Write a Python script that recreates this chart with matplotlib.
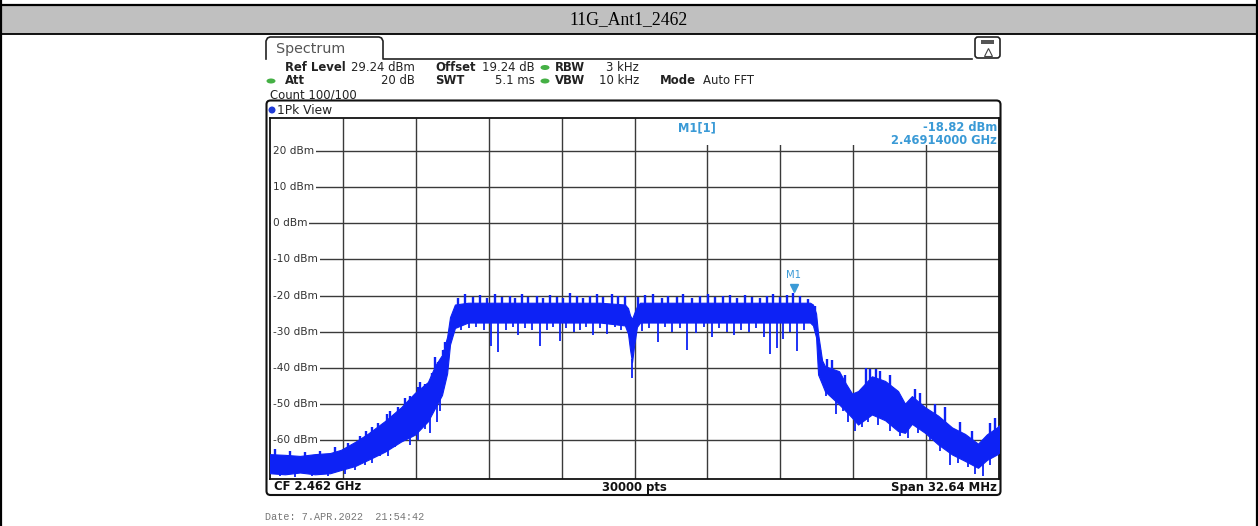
import numpy as np
import matplotlib.pyplot as plt
from matplotlib.patches import Rectangle, FancyBboxPatch, Ellipse

# spectrum settings
cf_ghz = 2.462
span_mhz = 32.64
ref_level = 29.24
marker_f = 7.14          # MHz from CF (2.46914 GHz)
marker_lvl = -18.82
y_levels = [20, 10, 0, -10, -20, -30, -40, -50, -60]

# trace core band (MHz from CF, dBm)
env_f = [-16.32, -15.65, -14.98, -14.31, -13.63, -13.14, -12.51, -11.93, -11.17,
         -10.45, -9.83, -9.25, -8.93, -8.62, -8.39, -8.26, -8.04, -7.45, -6.02,
         -3.78, -1.54, -0.43, -0.29, -0.20, -0.11, -0.02, 0.11, 0.25, 2.93, 5.62,
         7.86, 7.99, 8.13, 8.22, 8.40, 8.53, 9.16, 9.45, 9.74, 10.01, 10.63, 11.22,
         11.80, 12.11, 12.42, 13.01, 13.59, 14.22, 14.80, 15.38, 15.78, 16.23, 16.32]
env_hi = [-64.0, -64.2, -64.5, -64.0, -63.7, -62.8, -60.6, -58.3, -54.8,
          -51.0, -47.0, -44.0, -39.5, -36.5, -31.5, -26.0, -22.5, -22.0, -22.0,
          -22.0, -22.0, -22.5, -23.5, -25.5, -26.5, -25.0, -23.0, -22.0, -22.0, -22.0,
          -22.0, -22.5, -25.0, -30.6, -38.0, -39.6, -41.0, -44.3, -47.2, -46.5, -42.4, -43.7,
          -46.5, -50.0, -47.9, -51.0, -53.3, -56.6, -58.4, -61.1, -58.5, -56.6, -56.0]
env_lo = [-69.3, -69.6, -69.1, -69.6, -69.3, -68.4, -67.3, -65.6, -63.3,
          -60.5, -58.6, -54.9, -51.2, -47.6, -41.6, -33.6, -29.0, -27.5, -27.5,
          -27.5, -27.5, -28.3, -30.6, -35.0, -38.5, -34.0, -28.7, -27.5, -27.5, -27.5,
          -27.5, -28.3, -31.6, -41.9, -44.6, -46.6, -50.2, -52.0, -53.9, -55.8, -53.0, -54.6,
          -57.6, -58.1, -55.6, -58.1, -61.3, -64.1, -65.9, -67.8, -65.6, -64.1, -63.6]

# peaks sticking out above the core band
up_f = [-7.90, -7.59, -7.23, -6.92, -6.60, -6.25, -5.93, -5.57, -5.35, -5.04,
        -4.77, -4.37, -4.10, -3.78, -3.47, -3.20, -2.89, -2.57, -2.31, -1.99,
        -1.68, -1.41, -1.01, -0.74, -0.43,
        0.16, 0.47, 0.83, 1.23, 1.50, 1.90, 2.17, 2.57, 2.93, 3.29, 3.60, 3.96,
        4.28, 4.59, 4.95, 5.26, 5.62, 5.93, 6.20, 6.51, 6.83, 7.10, 7.41, 7.77,
        -16.10, -15.43, -14.75, -14.08, -13.41, -12.83, -12.29, -12.02, -11.75,
        -11.48, -11.08, -10.95, -10.59, -10.28, -10.05, -9.69, -9.60, -9.38, -9.07,
        -8.93, -8.80, -8.57, -8.48,
        8.08, 8.31, 8.62, 8.85, 9.43, 10.37, 10.55, 10.81, 10.99, 11.44, 12.56,
        12.78, 13.45, 13.90, 14.57, 15.11, 15.92, 16.14]
up_lvl = [-20.6, -19.6, -20.3, -19.9, -20.8, -19.6, -20.5, -20.2, -20.7, -19.7,
          -20.4, -20.0, -20.8, -19.8, -20.3, -20.6, -19.2, -20.1, -20.7, -20.0,
          -19.6, -20.5, -19.5, -20.2, -20.0,
          -20.4, -19.9, -19.5, -20.6, -20.0, -20.3, -19.7, -20.7, -20.1, -19.6, -20.5, -20.2,
          -19.8, -20.6, -19.9, -20.3, -20.7, -20.0, -19.6, -20.4, -19.8, -19.4, -20.2, -20.9,
          -62.5, -63.0, -63.5, -63.0, -62.0, -61.0, -59.0, -57.5, -56.5,
          -55.5, -53.0, -52.0, -51.0, -48.5, -48.0, -45.5, -44.0, -44.5, -41.5,
          -37.0, -38.5, -35.0, -33.0,
          -23.0, -35.0, -37.5, -38.0, -42.0, -40.0, -40.5, -40.5, -41.0, -42.0, -46.0,
          -47.0, -50.0, -51.0, -55.0, -57.5, -55.5, -54.0]

# dips below the core band
dn_f = [-7.75, -7.41, -7.08, -6.76, -6.43, -6.09, -5.75, -5.46, -5.20, -4.91,
        -4.57, -4.24, -3.94, -3.63, -3.34, -3.05, -2.73, -2.44, -2.15, -1.84,
        -1.55, -1.21, -0.88, -0.59, -0.11,
        0.32, 0.65, 1.03, 1.37, 1.70, 2.04, 2.37, 2.75, 3.11, 3.45, 3.78, 4.12,
        4.44, 4.77, 5.11, 5.44, 5.78, 6.07, 6.36, 6.67, 6.97, 7.26, 7.59,
        -15.87, -15.20, -14.44, -13.72, -12.96, -12.51, -12.07, -11.75, -11.40,
        -11.04, -10.72, -10.05, -9.69, -9.38, -9.16, -8.84, -8.71,
        8.57, 9.00, 9.34, 9.56, 9.87, 10.19, 10.46, 10.90, 11.44, 11.89, 12.24,
        12.69, 13.23, 13.68, 14.13, 14.48, 14.93, 15.25, 15.60, 15.92]
dn_lvl = [-29.5, -29.0, -28.8, -29.5, -34.0, -35.8, -29.5, -28.8, -31.0, -29.0,
          -29.5, -34.0, -29.5, -28.8, -32.5, -29.0, -30.0, -29.5, -28.8, -31.0,
          -29.0, -30.8, -28.8, -29.5, -43.0,
          -29.8, -29.0, -33.0, -28.8, -30.0, -29.0, -35.0, -30.5, -28.8, -31.5, -29.0, -30.0,
          -31.0, -29.5, -30.0, -29.0, -31.5, -36.3, -34.5, -32.0, -30.0, -35.5, -29.5,
          -70.2, -70.3, -70.2, -70.0, -69.5, -68.5, -67.0, -66.5, -64.5,
          -64.5, -62.0, -61.5, -60.0, -57.0, -58.0, -55.0, -52.0,
          -48.0, -53.0, -52.0, -55.0, -57.5, -56.5, -55.0, -56.0, -57.5, -59.0, -59.5,
          -58.0, -60.0, -63.0, -67.0, -66.5, -67.5, -69.5, -70.0, -67.0]

W, H = 1258, 526
blue = '#0d22f5'
mk_col = '#3a9ad6'

fig = plt.figure(figsize=(W / 100, H / 100), dpi=100)
bg = fig.add_axes([0, 0, 1, 1])
bg.set_xlim(0, W)
bg.set_ylim(H, 0)
bg.axis('off')

# outer table
bg.add_patch(Rectangle((1, 5), W - 2, 28.5, facecolor='#c0c0c0', edgecolor='none'))
bg.plot([0, W], [4.5, 4.5], color='black', lw=1.6)
bg.plot([0, W], [33.8, 33.8], color='black', lw=1.3)
bg.plot([1, 1], [0, H], color='black', lw=1.6)
bg.plot([W - 1.5, W - 1.5], [0, H], color='black', lw=1.6)
bg.text(629, 20, '11G_Ant1_2462', family='Liberation Serif', fontsize=12.7,
        ha='center', va='center')

# screen header: Spectrum tab
tab = [(266, 59), (266, 41), (267.5, 38), (270, 37), (379, 37), (381.5, 38),
       (383, 41), (383, 59), (972, 59)]
tx, ty = zip(*tab)
bg.plot(tx, ty, color='#222222', lw=1.2)
bg.text(276, 48.5, 'Spectrum', fontsize=10.3, color='#555555', va='center')

# icon in the corner
bg.add_patch(FancyBboxPatch((975, 37), 25, 21, boxstyle='round,pad=0,rounding_size=3',
                            facecolor='white', edgecolor='#222222', lw=1.2))
bg.add_patch(Rectangle((981, 40), 13, 4, facecolor='#555555', edgecolor='none'))
bg.plot([988], [52], marker='^', ms=6, mfc='white', mec='#444444', mew=0.8)

hdr = dict(fontsize=8.4, color='#222222', va='center')
bg.text(285, 67.5, 'Ref Level', fontweight='bold', **hdr)
bg.text(415, 67.5, '29.24 dBm', ha='right', **hdr)
bg.text(435, 67.5, 'Offset', fontweight='bold', **hdr)
bg.text(535, 67.5, '19.24 dB', ha='right', **hdr)
bg.text(555, 67.5, 'RBW', fontweight='bold', **hdr)
bg.text(639, 67.5, '3 kHz', ha='right', **hdr)
bg.text(285, 81, 'Att', fontweight='bold', **hdr)
bg.text(415, 81, '20 dB', ha='right', **hdr)
bg.text(435, 81, 'SWT', fontweight='bold', **hdr)
bg.text(535, 81, '5.1 ms', ha='right', **hdr)
bg.text(555, 81, 'VBW', fontweight='bold', **hdr)
bg.text(639, 81, '10 kHz', ha='right', **hdr)
bg.text(660, 81, 'Mode', fontweight='bold', **hdr)
bg.text(703, 81, 'Auto FFT', **hdr)
bg.text(270, 94.5, 'Count 100/100', **hdr)
for ex, ey in [(545, 67.5), (545, 81), (271, 81)]:
    bg.add_patch(Ellipse((ex, ey), 9, 5, facecolor='#45b045', edgecolor='none'))

# 1Pk View panel
bg.add_patch(FancyBboxPatch((266.5, 100.5), 734, 394.5,
                            boxstyle='round,pad=0,rounding_size=4',
                            facecolor='white', edgecolor='#111111', lw=1.5))
bg.add_patch(Ellipse((272, 110), 7, 7, facecolor='#1f3bd6', edgecolor='none'))
bg.text(277, 110, '1Pk View', fontsize=8.8, color='#222222', va='center')
bot = dict(fontsize=8.4, fontweight='bold', color='#111111', va='center')
bg.text(274, 487, 'CF 2.462 GHz', **bot)
bg.text(634, 487, '30000 pts', ha='center', **bot)
bg.text(997, 487, 'Span 32.64 MHz', ha='right', **bot)

bg.text(265, 517, 'Date: 7.APR.2022  21:54:42', family='Liberation Mono',
        fontsize=7.3, color='#777777', va='center')

# trace axes
ax = fig.add_axes([270 / W, 1 - 478.5 / H, 729 / W, 360.5 / H])
half = span_mhz / 2
ax.set_xlim(-half, half)
ax.set_ylim(ref_level - 100, ref_level)
ax.set_xticks([])
ax.set_yticks([])
for s in ax.spines.values():
    s.set_color('#111111')
    s.set_linewidth(1.3)

div = span_mhz / 10
grid_x = [-half + k * div for k in range(1, 10)]
ax.vlines(grid_x, ref_level - 100, ref_level, color='#3a3a3a', lw=1.0, zorder=1)
ax.hlines(y_levels, -half, half, color='#3a3a3a', lw=1.0, zorder=1)
# marker readout covers the grid
ax.add_patch(Rectangle((0.69, 21.84), half - 0.69, ref_level - 21.84,
                       facecolor='white', edgecolor='none', zorder=2))
for lv in y_levels:
    ax.text(-half + 0.14, lv, f'{lv} dBm', fontsize=7.6, color='#333333', va='center',
            ha='left', zorder=4,
            bbox=dict(facecolor='white', edgecolor='none', pad=1.2))

ax.fill_between(env_f, env_lo, env_hi, color=blue, lw=0.8, edgecolor=blue, zorder=3)
up_base = np.interp(up_f, env_f, env_hi) - 1.0
dn_base = np.interp(dn_f, env_f, env_lo) + 1.0
ax.vlines(up_f, up_base, up_lvl, color=blue, lw=1.7, zorder=3)
ax.vlines(dn_f, dn_base, dn_lvl, color=blue, lw=1.3, zorder=3)

# marker M1
ax.plot([marker_f], [marker_lvl + 1.0], marker='v', ms=6, color=mk_col, zorder=5)
ax.text(marker_f, marker_lvl + 3.2, 'M1', fontsize=7.2, color=mk_col,
        ha='center', va='bottom', zorder=5)
ax.text(1.95, 26.6, 'M1[1]', fontsize=8.3, fontweight='bold', color=mk_col,
        ha='left', va='center', zorder=5)
ax.text(half - 0.08, 26.6, f'{marker_lvl:.2f} dBm', fontsize=8.3, fontweight='bold',
        color=mk_col, ha='right', va='center', zorder=5)
ax.text(half - 0.08, 23.0, f'{cf_ghz + marker_f / 1000:.8f} GHz', fontsize=8.3,
        fontweight='bold', color=mk_col, ha='right', va='center', zorder=5)

fig.savefig('out.png', dpi=100)
